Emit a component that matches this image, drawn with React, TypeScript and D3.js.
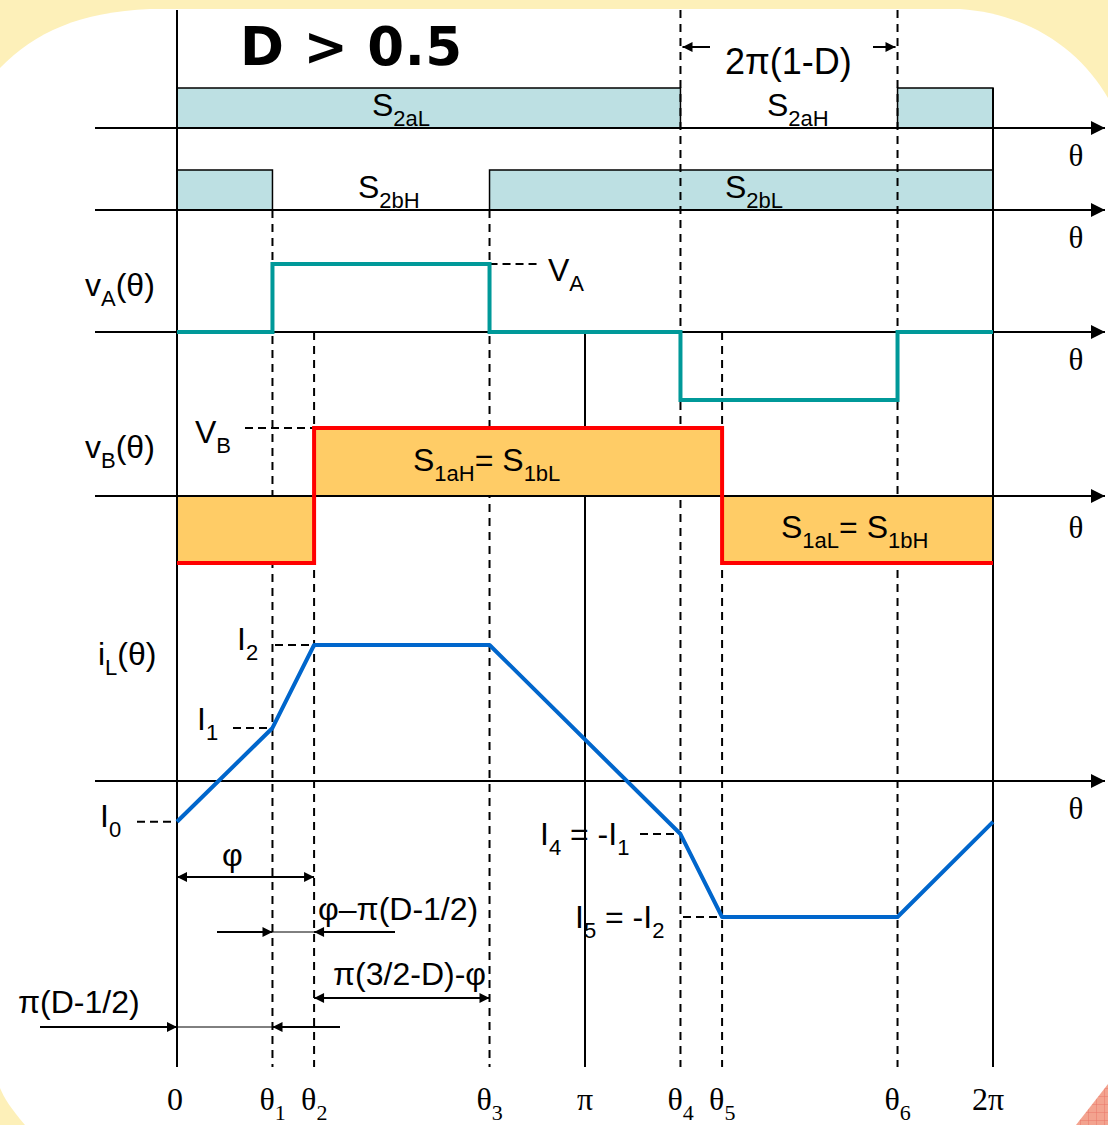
import React from 'react';
import * as d3 from 'd3';

const WIDTH = 1108;
const HEIGHT = 1125;

// switching angles in units of pi (D ~ 0.734, phi ~ 0.336 pi)
const THETA_TICKS = [0, 0.234, 0.336, 0.766, 1, 1.234, 1.336, 1.766, 2];
const TICK_MAIN = ['0', 'θ', 'θ', 'θ', 'π', 'θ', 'θ', 'θ', '2π'];
const TICK_SUB = ['', '1', '2', '3', '', '4', '5', '6', ''];

// gate signals (start, end) in units of pi
const S2A_ON = [[0, 1.234], [1.766, 2]];
const S2B_ON = [[0, 0.234], [0.766, 2]];

// vA(θ) and vB(θ) levels, each holding until the next angle
const VA_THETA = [0, 0.234, 0.766, 1.234, 1.766, 2];
const VA_LEVEL = [0, 1, 0, -1, 0, 0];
const VB_THETA = [0, 0.336, 1.336, 2];
const VB_LEVEL = [-1, 1, -1, -1];

// inductor current, normalised to I2
const IL_THETA = [0, 0.234, 0.336, 0.766, 1.234, 1.336, 1.766, 2];
const IL_VALUE = [-0.3, 0.39, 1, 1, -0.39, -1, -1, -0.3];

const SANS = 'Arial, "Liberation Sans", sans-serif';
const SERIF = '"Times New Roman", "Liberation Serif", serif';
const TEAL = '#009999';
const RED = '#ff0000';
const ORANGE = '#ffcc66';
const BLUE = '#0066cc';
const BOX = '#bde0e3';

const x = d3.scaleLinear().domain([0, 2]).range([177, 993]);
const AXES = [128, 210, 332, 496, 781];
const yA = d3.scaleLinear().domain([-1, 1]).range([400, 264]);
const yB = d3.scaleLinear().domain([-1, 1]).range([563, 428]);
const yI = d3.scaleLinear().domain([-1, 1]).range([917, 645]);

// text with subscripts: parts alternate normal / sub
function Label({ x: tx, y: ty, parts, size = 32, family = SANS, anchor = 'start', weight = 'normal' }: any) {
  const sub = Math.round(size * 0.68);
  const shift = Math.round(size * 0.3);
  return (
    <text x={tx} y={ty} fontSize={size} fontFamily={family} textAnchor={anchor} fontWeight={weight} fill="#000">
      {parts.map((p: string, i: number) => {
        if (!p) return null;
        const isSub = i % 2 === 1;
        const prevSub = i > 0 && (i - 1) % 2 === 1 && parts[i - 1];
        let dy = 0;
        if (isSub) dy = shift;
        else if (prevSub) dy = -shift;
        return (
          <tspan key={i} dy={dy} fontSize={isSub ? sub : size}>{p}</tspan>
        );
      })}
    </text>
  );
}

export default function App() {
  const stepA = d3.line<number>()
    .x((_, i) => x(VA_THETA[i]))
    .y(d => yA(d))
    .curve(d3.curveStepAfter)(VA_LEVEL);
  const stepB = d3.line<number>()
    .x((_, i) => x(VB_THETA[i]))
    .y(d => yB(d))
    .curve(d3.curveStepAfter)(VB_LEVEL);
  const areaB = d3.area<number>()
    .x((_, i) => x(VB_THETA[i]))
    .y0(yB(0))
    .y1(d => yB(d))
    .curve(d3.curveStepAfter)(VB_LEVEL);
  const iLine = d3.line<number>()
    .x((_, i) => x(IL_THETA[i]))
    .y(d => yI(d))(IL_VALUE);

  const t = (i: number) => x(THETA_TICKS[i]);
  const dash = '8,6';
  const BOTTOM = 1067;

  // vertical guides: tick index, top y, dashed
  const guides: [number, number, boolean][] = [
    [0, 10, false], [8, 88, false], [4, 332, false],
    [1, 210, true], [2, 332, true], [3, 210, true],
    [5, 10, true], [6, 332, true], [7, 10, true],
  ];

  return (
    <svg width={WIDTH} height={HEIGHT} style={{ position: 'absolute', left: 0, top: 0, display: 'block' }}>
      <defs>
        <marker id="axisArrow" viewBox="0 0 10 10" refX="10" refY="5" markerWidth="16" markerHeight="14"
          markerUnits="userSpaceOnUse" orient="auto">
          <path d="M0,0 L10,5 L0,10 Z" fill="#000" />
        </marker>
        <marker id="dimArrow" viewBox="0 0 10 10" refX="10" refY="5" markerWidth="13" markerHeight="10"
          markerUnits="userSpaceOnUse" orient="auto-start-reverse">
          <path d="M0,0 L10,5 L0,10 Z" fill="#000" />
        </marker>
        <pattern id="hatch" width="8" height="8" patternUnits="userSpaceOnUse">
          <rect width="8" height="8" fill="#f3a38f" />
          <path d="M0,0 L8,0 M0,0 L0,8" stroke="#e9776a" strokeWidth="1" />
        </pattern>
      </defs>

      {/* slide background */}
      <rect width={WIDTH} height={HEIGHT} fill="#fdf0b9" />
      <path d={`M0,68 C35,32 80,12 150,9 L960,9 C1030,14 1080,50 ${WIDTH},98 L${WIDTH},${HEIGHT} L25,${HEIGHT} C12,1110 4,1098 0,1088 Z`} fill="#fff" />
      <path d={`M1076,${HEIGHT} L${WIDTH},1084 L${WIDTH},${HEIGHT} Z`} fill="url(#hatch)" />

      {/* gate boxes */}
      {S2A_ON.map((d, i) => (
        <rect key={'a' + i} x={x(d[0])} y={88} width={x(d[1]) - x(d[0])} height={AXES[0] - 88}
          fill={BOX} stroke="#000" strokeWidth={1.5} />
      ))}
      {S2B_ON.map((d, i) => (
        <rect key={'b' + i} x={x(d[0])} y={170} width={x(d[1]) - x(d[0])} height={AXES[1] - 170}
          fill={BOX} stroke="#000" strokeWidth={1.5} />
      ))}

      {/* vertical guides */}
      {guides.map(([i, y0, dashed]) => (
        <line key={'g' + i} x1={t(i)} x2={t(i)} y1={y0} y2={BOTTOM} stroke="#000"
          strokeWidth={2} strokeDasharray={dashed ? dash : undefined} />
      ))}

      {/* vB fill, over the guides */}
      <path d={areaB || ''} fill={ORANGE} />
      <line x1={x(2)} x2={x(2)} y1={yB(0)} y2={yB(-1)} stroke="#000" strokeWidth={2} />
      <line x1={x(0)} x2={x(0)} y1={yB(0)} y2={yB(-1)} stroke="#000" strokeWidth={2} />

      {/* horizontal axes */}
      {AXES.map(ay => (
        <line key={'ax' + ay} x1={95} x2={1105} y1={ay} y2={ay} stroke="#000" strokeWidth={2.2}
          markerEnd="url(#axisArrow)" />
      ))}

      {/* level reference dashes */}
      <g stroke="#000" strokeWidth={2} strokeDasharray="8,5">
        <line x1={t(3)} x2={537} y1={yA(1)} y2={yA(1)} />
        <line x1={245} x2={t(2)} y1={yB(1)} y2={yB(1)} />
        <line x1={275} x2={t(2)} y1={yI(IL_VALUE[2])} y2={yI(IL_VALUE[2])} />
        <line x1={233} x2={t(1)} y1={yI(IL_VALUE[1])} y2={yI(IL_VALUE[1])} />
        <line x1={137} x2={t(0)} y1={yI(IL_VALUE[0])} y2={yI(IL_VALUE[0])} />
        <line x1={640} x2={t(5)} y1={yI(IL_VALUE[4])} y2={yI(IL_VALUE[4])} />
        <line x1={683} x2={t(6)} y1={yI(IL_VALUE[5])} y2={yI(IL_VALUE[5])} />
      </g>

      {/* waveforms */}
      <path d={stepA || ''} fill="none" stroke={TEAL} strokeWidth={4} />
      <path d={stepB || ''} fill="none" stroke={RED} strokeWidth={4} />
      <path d={iLine || ''} fill="none" stroke={BLUE} strokeWidth={4} strokeLinejoin="round" />

      {/* dimension arrows */}
      <g stroke="#000" strokeWidth={2}>
        <line x1={710} x2={t(5) + 2} y1={47} y2={47} markerEnd="url(#dimArrow)" />
        <line x1={873} x2={t(7) - 2} y1={47} y2={47} markerEnd="url(#dimArrow)" />
        <line x1={t(0)} x2={t(2)} y1={877} y2={877} markerStart="url(#dimArrow)" markerEnd="url(#dimArrow)" />
        <line x1={217} x2={t(1)} y1={932} y2={932} markerEnd="url(#dimArrow)" />
        <line x1={t(1)} x2={t(2)} y1={932} y2={932} strokeWidth={1} />
        <line x1={395} x2={t(2)} y1={932} y2={932} markerEnd="url(#dimArrow)" />
        <line x1={t(2)} x2={t(3)} y1={998} y2={998} markerStart="url(#dimArrow)" markerEnd="url(#dimArrow)" />
        <line x1={40} x2={t(0)} y1={1027} y2={1027} markerEnd="url(#dimArrow)" />
        <line x1={t(0)} x2={t(1)} y1={1027} y2={1027} strokeWidth={1} />
        <line x1={340} x2={t(1)} y1={1027} y2={1027} markerEnd="url(#dimArrow)" />
      </g>

      {/* titles and labels */}
      <text x={240} y={65} fontSize={53} fontWeight="bold" letterSpacing={0.5}
        fontFamily='Verdana, "DejaVu Sans", sans-serif'>D &gt; 0.5</text>
      <Label x={725} y={74} parts={['2π(1-D)']} size={36} />
      <Label x={372} y={116} parts={['S', '2aL']} />
      <Label x={767} y={116} parts={['S', '2aH']} />
      <Label x={358} y={198} parts={['S', '2bH']} />
      <Label x={725} y={198} parts={['S', '2bL']} />
      <Label x={85} y={296} parts={['v', 'A', '(θ)']} />
      <Label x={548} y={281} parts={['V', 'A']} />
      <Label x={85} y={458} parts={['v', 'B', '(θ)']} />
      <Label x={195} y={443} parts={['V', 'B']} />
      <Label x={413} y={471} parts={['S', '1aH', '= S', '1bL']} />
      <Label x={781} y={538} parts={['S', '1aL', '= S', '1bH']} />
      <Label x={98} y={665} parts={['i', 'L', '(θ)']} />
      <Label x={237} y={650} parts={['I', '2']} />
      <Label x={197} y={730} parts={['I', '1']} />
      <Label x={100} y={827} parts={['I', '0']} />
      <Label x={540} y={845} parts={['I', '4', ' = -I', '1']} />
      <Label x={575} y={928} parts={['I', '5', ' = -I', '2']} />
      <Label x={222} y={866} parts={['φ']} />
      <Label x={318} y={920} parts={['φ–π(D-1/2)']} />
      <Label x={333} y={985} parts={['π(3/2-D)-φ']} />
      <Label x={18} y={1013} parts={['π(D-1/2)']} />

      {/* right-hand θ axis labels */}
      {AXES.map((ay, i) => (
        <text key={'th' + i} x={1076} y={ay + (i === 3 ? 42 : 38)} fontSize={31} fontFamily={SERIF} textAnchor="middle">θ</text>
      ))}

      {/* bottom tick labels */}
      {THETA_TICKS.map((d, i) => (
        TICK_SUB[i]
          ? <Label key={'tk' + i} x={x(d) - 13} y={1110} parts={[TICK_MAIN[i], TICK_SUB[i]]} family={SERIF} size={32} />
          : <text key={'tk' + i} x={x(d) - (i === 8 ? 5 : i === 0 ? 2 : 0)} y={1110} fontSize={32} fontFamily={SERIF} textAnchor="middle">{TICK_MAIN[i]}</text>
      ))}
    </svg>
  );
}
